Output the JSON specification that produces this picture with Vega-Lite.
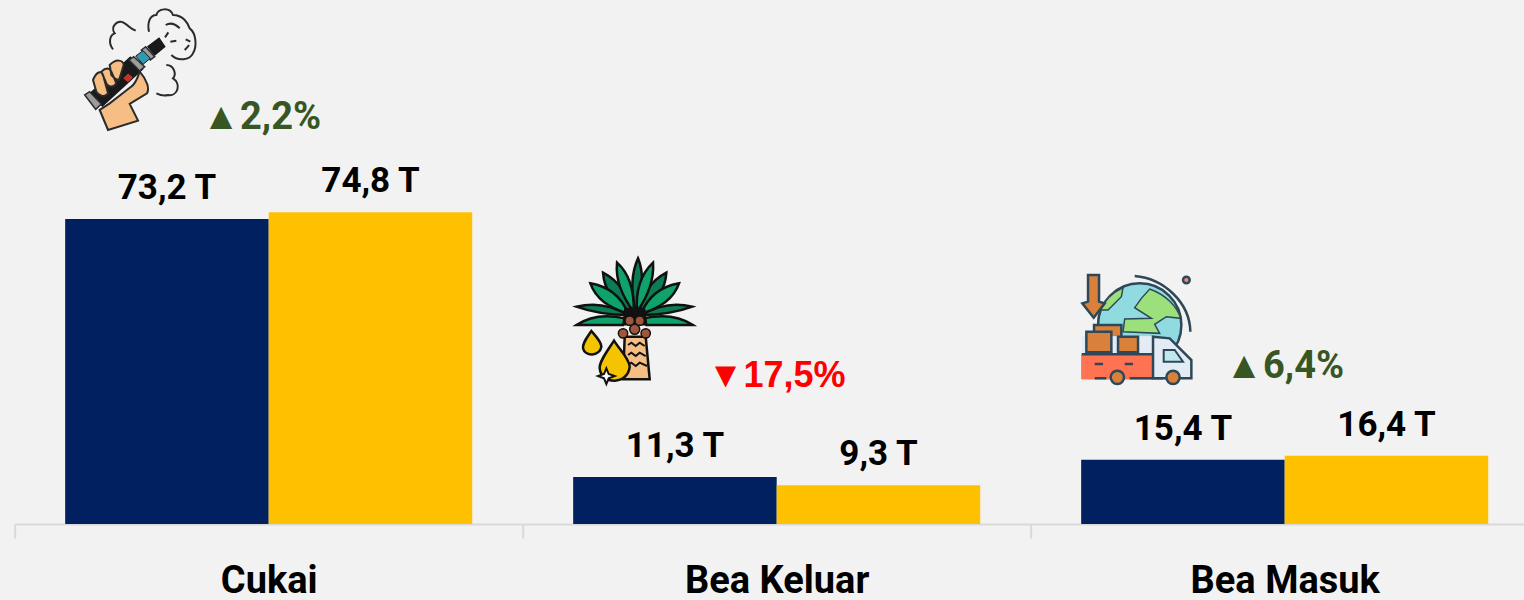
{
"$schema":"https://vega.github.io/schema/vega-lite/v6.json",
"width":1509,"height":524,
"autosize":{"type":"none"},
"padding":{"left":14.7,"top":0,"right":0.3,"bottom":76},
"background":"#f2f2f2",
"config":{"view":{"stroke":null}},
"datasets":{
"nilai":[
{"kategori":"Cukai","periode":"Sebelumnya","triliun":73.2,"label":"73,2 T"},
{"kategori":"Cukai","periode":"Berjalan","triliun":74.8,"label":"74,8 T"},
{"kategori":"Bea Keluar","periode":"Sebelumnya","triliun":11.3,"label":"11,3 T"},
{"kategori":"Bea Keluar","periode":"Berjalan","triliun":9.3,"label":"9,3 T"},
{"kategori":"Bea Masuk","periode":"Sebelumnya","triliun":15.4,"label":"15,4 T"},
{"kategori":"Bea Masuk","periode":"Berjalan","triliun":16.4,"label":"16,4 T"}
],
"perubahan":[
{"kategori":"Cukai","posisi":94.8,"teks":"▲2,2%"},
{"kategori":"Bea Keluar","posisi":32.9,"teks":"▼17,5%"},
{"kategori":"Bea Masuk","posisi":35,"teks":"▲6,4%"}
]
},
"encoding":{
"x":{"field":"kategori","type":"nominal","sort":["Cukai","Bea Keluar","Bea Masuk"],
"scale":{"paddingInner":0,"paddingOuter":0,"range":[0,1524]},
"axis":{"title":null,"labelAngle":0,"domainColor":"#d9d9d9","domainWidth":2,"tickColor":"#d9d9d9","tickWidth":2,"tickSize":14,"tickBand":"extent","labelFont":"Roboto","labelFontWeight":"bold","labelFontSize":38,"labelColor":"#000000","labelBaseline":"alphabetic","labelPadding":54,"labelLimit":0,"labelOverlap":false,"labelBound":false,"labelFlush":false}},
"y":{"type":"quantitative","scale":{"domain":[0,125.75],"nice":false,"zero":true},"axis":null}
},
"layer":[
{"data":{"name":"nilai"},"mark":{"type":"bar"},
"encoding":{
"y":{"field":"triliun","type":"quantitative"},
"xOffset":{"field":"periode","type":"nominal","sort":["Sebelumnya","Berjalan"],"scale":{"paddingOuter":0.248,"paddingInner":0}},
"color":{"field":"periode","type":"nominal","legend":null,"scale":{"domain":["Sebelumnya","Berjalan"],"range":["#002060","#FFC000"]}}
}},
{"data":{"name":"nilai"},"mark":{"type":"text","font":"Roboto","fontWeight":"bold","fontSize":35,"dy":-20,"baseline":"alphabetic","color":"#000000"},
"encoding":{
"y":{"field":"triliun","type":"quantitative"},
"xOffset":{"field":"periode","type":"nominal","sort":["Sebelumnya","Berjalan"],"scale":{"paddingOuter":0.248,"paddingInner":0}},
"text":{"field":"label"}
}},
{"data":{"name":"perubahan"},"transform":[{"filter":"datum.kategori==='Cukai'"}],"mark":{"type":"text","font":"Roboto","fontWeight":"bold","fontSize":38,"dx":-7,"baseline":"alphabetic","color":"#375623"},
"encoding":{"y":{"field":"posisi","type":"quantitative"},"text":{"field":"teks"}}},
{"data":{"name":"perubahan"},"transform":[{"filter":"datum.kategori==='Bea Masuk'"}],"mark":{"type":"text","font":"Roboto","fontWeight":"bold","fontSize":38,"dx":0,"baseline":"alphabetic","color":"#375623"},
"encoding":{"y":{"field":"posisi","type":"quantitative"},"text":{"field":"teks"}}},
{"data":{"name":"perubahan"},"transform":[{"filter":"datum.kategori==='Bea Keluar'"}],"mark":{"type":"text","font":"Liberation Sans","fontWeight":"bold","fontSize":36,"dx":0,"baseline":"alphabetic","color":"#FF0000"},
"encoding":{"y":{"field":"posisi","type":"quantitative"},"text":{"field":"teks"}}},
{"data":{"values":[{"kategori":"Cukai","posisi":125.75}]},
"encoding":{"y":{"field":"posisi","type":"quantitative"}},
"layer":[
{"mark":{"type":"point","size":0.4444,"xOffset":-209,"opacity":1,"filled":false,"fill":"transparent","stroke":"#2b2b2b","strokeWidth":2,"shape":"M160 148 C145 130 150 105 165 100 C150 80 175 55 195 70 C205 75 210 85 228 92 M268 95 C262 70 270 45 290 45 C295 25 330 20 340 45 C370 45 385 70 390 85 C410 100 412 140 400 160 C390 180 355 185 335 165 M318 75 C335 65 350 75 360 85 M316 112 L326 97 M332 125 L350 122 M378 118 L392 125 M375 150 C380 145 385 140 388 135 M320 195 C345 195 350 225 340 235 C365 250 355 290 325 285 C315 288 300 285 290 280"}},
{"mark":{"type":"point","size":0.4444,"xOffset":-209,"opacity":1,"fill":"#1a1a1a","stroke":"#1a1a1a","strokeWidth":1.5,"shape":"M92 280 L212 172 L248 208 L128 318 Z M265 140 L298 115 L315 140 L285 165 Z"}},
{"mark":{"type":"point","size":0.4444,"xOffset":-209,"opacity":1,"fill":"#9c9c9c","stroke":"#2b2b2b","strokeWidth":1.5,"shape":"M75 285 L90 275 L125 312 L108 328 Z M208 180 L222 170 L255 200 L240 213 Z M245 150 L258 140 L285 170 L272 180 Z"}},
{"mark":{"type":"point","size":0.4444,"xOffset":-209,"opacity":1,"fill":"#2e9ab5","stroke":"#1a1a1a","strokeWidth":1,"shape":"M228 168 L250 152 L272 175 L250 193 Z"}},
{"mark":{"type":"point","size":0.4444,"xOffset":-209,"opacity":1,"fill":"#c9302c","stroke":"#c9302c","strokeWidth":1,"shape":"M192 235 L205 222 L218 232 L205 245 Z"}},
{"mark":{"type":"point","size":0.4444,"xOffset":-209,"opacity":1,"fill":"#f6bd84","stroke":"#2b2b2b","strokeWidth":2,"shape":"M120 330 L145 390 L235 362 L210 312 L262 280 C270 265 262 240 240 215 C232 240 225 255 212 262 L150 310 Z M100 240 C110 215 125 210 130 225 L145 280 C135 295 115 285 110 275 Z M125 215 C140 200 150 205 155 215 L170 250 C160 265 145 260 140 250 Z M150 195 C170 175 190 180 192 195 L178 240 C165 240 160 230 155 225 Z"}}
]},
{"data":{"values":[{"kategori":"Bea Keluar","posisi":65.75}]},
"encoding":{"y":{"field":"posisi","type":"quantitative"}},
"layer":[
{"mark":{"type":"point","size":0.4444,"xOffset":-217,"opacity":1,"fill":"#f6bd84","stroke":"#111111","strokeWidth":2.5,"shape":"M195 260 L258 260 L270 388 L190 388 Z"}},
{"mark":{"type":"point","size":0.4444,"xOffset":-217,"opacity":1,"filled":false,"fill":"transparent","stroke":"#111111","strokeWidth":2,"shape":"M205 285 L215 278 L228 288 L240 278 L255 288 M205 315 L215 308 L228 318 L240 308 L258 318 M205 345 L215 338 L228 348 L240 338 L262 348"}},
{"mark":{"type":"point","size":0.4444,"xOffset":-217,"opacity":1,"fill":"#0b7d54","stroke":"#111111","strokeWidth":2.5,"shape":"M228 185 Q205 90 235 25 Q262 90 228 185 Z M215 190 Q135 145 130 68 Q200 105 215 190 Z M240 190 Q250 105 320 68 Q315 145 240 190 Z M205 195 Q120 195 50 170 Q130 150 205 195 Z M245 195 Q320 150 398 170 Q330 195 245 195 Z"}},
{"mark":{"type":"point","size":0.4444,"xOffset":-217,"opacity":1,"fill":"#0fa36b","stroke":"#111111","strokeWidth":2.5,"shape":"M222 185 Q165 110 172 38 Q225 85 222 185 Z M232 185 Q225 90 280 38 Q285 110 232 185 Z M205 190 Q115 165 92 100 Q175 115 205 190 Z M245 190 Q275 115 358 100 Q335 165 245 190 Z M190 225 L50 225 Q110 185 195 205 Z M260 225 L400 225 Q340 185 250 205 Z"}},
{"mark":{"type":"point","size":0.4444,"xOffset":-217,"opacity":1,"fill":"#111111","stroke":"#111111","strokeWidth":1,"shape":"M195 175 L255 175 L262 225 L190 225 Z"}},
{"mark":{"type":"point","size":0.4444,"xOffset":-217,"opacity":1,"fill":"#a0563a","stroke":"#111111","strokeWidth":1.5,"shape":"M176 250 A14 14 0 1 0 204 250 A14 14 0 1 0 176 250 Z M196 212 A14 14 0 1 0 224 212 A14 14 0 1 0 196 212 Z M226 212 A14 14 0 1 0 254 212 A14 14 0 1 0 226 212 Z M244 250 A14 14 0 1 0 272 250 A14 14 0 1 0 244 250 Z M210 238 A15 15 0 1 0 240 238 A15 15 0 1 0 210 238 Z"}},
{"mark":{"type":"point","size":0.4444,"xOffset":-217,"opacity":1,"fill":"#f5c400","stroke":"#111111","strokeWidth":2.5,"shape":"M95 243 C80 265 68 280 70 295 C75 320 120 320 125 290 C125 275 110 260 95 243 Z M163 272 C145 300 118 335 120 355 C125 405 205 405 210 350 C208 325 180 300 163 272 Z"}},
{"mark":{"type":"point","size":0.4444,"xOffset":-217,"opacity":1,"fill":"#ffffff","stroke":"#111111","strokeWidth":2,"shape":"M140 355 L147 372 L165 378 L147 385 L140 402 L133 385 L115 378 L133 372 Z"}}
]},
{"data":{"values":[{"kategori":"Bea Masuk","posisi":62.15}]},
"encoding":{"y":{"field":"posisi","type":"quantitative"}},
"layer":[
{"mark":{"type":"point","size":0.4444,"xOffset":-215,"opacity":1,"fill":"#8fdbe0","stroke":"#2f4858","strokeWidth":2.5,"shape":"M85 180 A125 125 0 1 1 335 180 A125 125 0 1 1 85 180 Z"}},
{"mark":{"type":"point","size":0.4444,"xOffset":-215,"opacity":1,"fill":"#9be07a","stroke":"#2f4858","strokeWidth":1.5,"shape":"M240 72 C290 90 322 125 333 160 L290 155 L255 178 L270 205 L160 200 L165 162 L245 160 L195 128 L215 100 Z M92 135 C105 105 125 85 160 68 L155 95 L115 135 Z"}},
{"mark":{"type":"point","size":0.4444,"xOffset":-215,"opacity":1,"filled":false,"fill":"transparent","stroke":"#2f4858","strokeWidth":2.5,"shape":"M195 33 C280 40 360 110 362 200"}},
{"mark":{"type":"point","size":0.4444,"xOffset":-215,"opacity":1,"fill":"#ee8a8a","stroke":"#2f4858","strokeWidth":2.5,"shape":"M340 45 A10 10 0 1 1 360 45 A10 10 0 1 1 340 45 Z"}},
{"mark":{"type":"point","size":0.4444,"xOffset":-215,"opacity":1,"fill":"#d9803b","stroke":"#2f4858","strokeWidth":2.5,"shape":"M55 30 L55 110 L38 115 L72 158 L105 115 L88 110 L88 30 Z M73 180 L155 180 L155 230 L73 230 Z"}},
{"mark":{"type":"point","size":0.4444,"xOffset":-215,"opacity":1,"fill":"#e3ecf5","stroke":"#e3ecf5","strokeWidth":1,"shape":"M38 215 L250 215 L250 265 L38 265 Z"}},
{"mark":{"type":"point","size":0.4444,"xOffset":-215,"opacity":1,"fill":"#d9803b","stroke":"#2f4858","strokeWidth":2.5,"shape":"M50 200 L125 200 L125 262 L50 262 Z M145 215 L205 215 L205 262 L145 262 Z"}},
{"mark":{"type":"point","size":0.4444,"xOffset":-215,"opacity":1,"fill":"#ff7352","stroke":"#ff7352","strokeWidth":1,"shape":"M36 270 L250 270 L250 342 L36 342 Z"}},
{"mark":{"type":"point","size":0.4444,"xOffset":-215,"opacity":1,"fill":"#e3ecf5","stroke":"#2f4858","strokeWidth":2.5,"shape":"M250 215 L300 220 L365 285 L365 340 L250 340 Z"}},
{"mark":{"type":"point","size":0.4444,"xOffset":-215,"opacity":1,"fill":"#bfe8f0","stroke":"#2f4858","strokeWidth":2,"shape":"M282 255 L315 255 L340 290 L282 290 Z"}},
{"mark":{"type":"point","size":0.4444,"xOffset":-215,"opacity":1,"filled":false,"fill":"transparent","stroke":"#2f4858","strokeWidth":2.5,"shape":"M36 268 L250 268 M75 297 L100 297 M165 297 L190 297 M75 340 L110 340 M180 340 L280 340"}},
{"mark":{"type":"point","size":0.4444,"xOffset":-215,"opacity":1,"fill":"#d9803b","stroke":"#2f4858","strokeWidth":2.5,"shape":"M123 337 A20 20 0 1 1 163 337 A20 20 0 1 1 123 337 Z M290 337 A20 20 0 1 1 330 337 A20 20 0 1 1 290 337 Z"}}
]}
]
}
